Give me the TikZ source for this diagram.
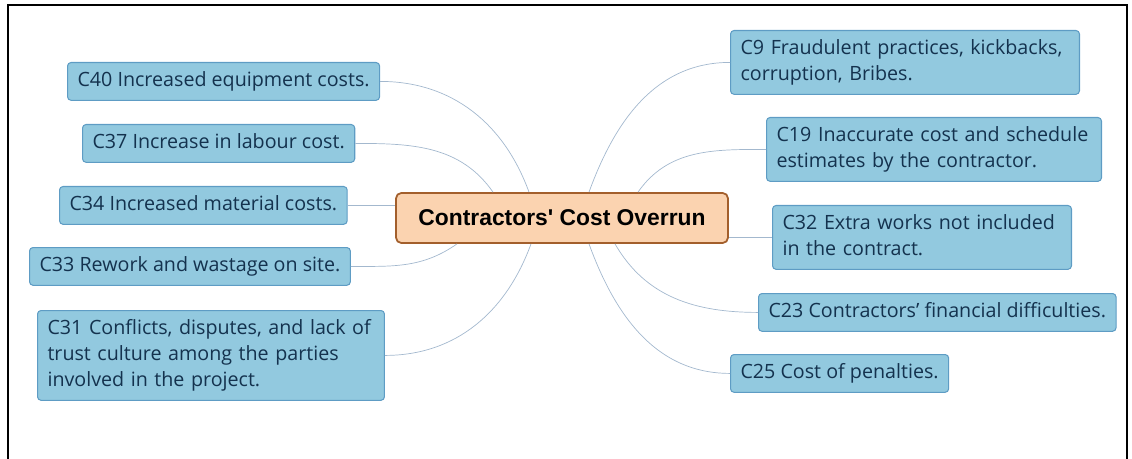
\documentclass[tikz,border=0pt]{standalone}
\usepackage{fontspec}
\setmainfont{Open Sans}
\newfontfamily\rootfont{Liberation Sans}
\usetikzlibrary{positioning}
\definecolor{causefill}{HTML}{92C9DF}
\definecolor{causeline}{HTML}{5E9CC4}
\definecolor{causetext}{HTML}{14324E}
\definecolor{rootfill}{HTML}{FBD3B0}
\definecolor{rootline}{HTML}{A35F2C}
\definecolor{linkcol}{HTML}{A3B8CE}

\begin{document}
\begin{tikzpicture}[
  x=0.02cm, y=0.02cm,
  cause/.style={draw=causeline, fill=causefill, rounded corners=2pt, line width=0.6pt,
                text=causetext, font=\fontsize{11.2}{14.8}\selectfont, align=left,
                anchor=north west, inner xsep=0.2cm, inner ysep=3.35pt,
                execute at begin node=\strut, execute at end node=\strut},
  root/.style={draw=rootline, fill=rootfill, rounded corners=3pt, line width=1pt,
               minimum width=6.64cm, minimum height=1cm, font=\rootfont\fontsize{13}{15}\bfseries},
  link/.style={draw=linkcol, line width=0.4pt}
]
  \useasboundingbox (0,0) rectangle (1132,-459);
  % Frame
  \draw[line width=1.1pt] (8,-459) -- (8,-5) -- (1127,-5) -- (1127,-459);

  % Centre
  \node[root] (root) at (562,-218) {Contractors{\textquotesingle} Cost Overrun};

  % Left causes
  \node[cause] (c40) at (67,-62) {C40 Increased equipment costs.};
  \node[cause] (c37) at (82,-124) {C37 Increase in labour cost.};
  \node[cause] (c34) at (59,-186) {C34 Increased material costs.};
  \node[cause] (c33) at (29,-247) {C33 Rework and wastage on site.};
  \node[cause, text width=6.54cm] (c31) at (37,-310)
    {C31 Conflicts, disputes, and lack of\\trust culture among the parties\\involved in the project.};

  % Right causes
  \node[cause, text width=6.58cm] (c9) at (730,-30)
    {C9 Fraudulent practices, kickbacks,\\corruption, Bribes.};
  \node[cause, text width=6.3cm] (c19) at (766,-117)
    {C19 Inaccurate cost and schedule\\estimates by the contractor.};
  \node[cause, text width=5.58cm] (c32) at (772,-205)
    {C32 Extra works not included\\in the contract.};
  \node[cause] (c23) at (758,-293) {C23 Contractors’ financial difficulties.};
  \node[cause] (c25) at (730,-354) {C25 Cost of penalties.};

  % Links
  \draw[link] ([xshift=-0.66cm]root.north) to[out=110, in=0] (c40.east);
  \draw[link] ([xshift=-1.38cm]root.north) to[out=125, in=0] (c37.east);
  \draw[link] (c34.east) -- (c34.east -| root.west);
  \draw[link] ([xshift=-2.1cm]root.south) to[out=215, in=0] (c33.east);
  \draw[link] ([xshift=-0.62cm]root.south) to[out=250, in=0] (c31.east);
  \draw[link] ([xshift=0.54cm]root.north) to[out=70, in=180] (c9.west);
  \draw[link] ([xshift=1.52cm]root.north) to[out=55, in=180] (c19.west);
  \draw[link] (c32.west -| root.east) -- (c32.west);
  \draw[link] ([xshift=1.06cm]root.south) to[out=-60, in=180] (c23.west);
  \draw[link] ([xshift=0.54cm]root.south) to[out=-70, in=180] (c25.west);
\end{tikzpicture}
\end{document}
